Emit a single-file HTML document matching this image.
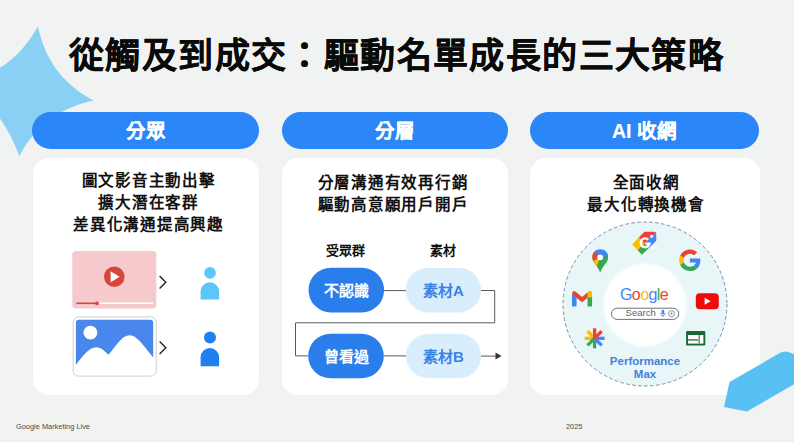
<!DOCTYPE html>
<html lang="zh-TW">
<head>
<meta charset="utf-8">
<style>
html,body{margin:0;padding:0;}
body{width:794px;height:442px;overflow:hidden;position:relative;background:#f1f3f3;font-family:"Liberation Sans",sans-serif;color:#111;}
.abs{position:absolute;}
.title{left:69px;top:31px;font-size:35px;font-weight:900;letter-spacing:1.4px;-webkit-text-stroke:0.3px #0a0a0a;line-height:50px;white-space:nowrap;color:#0a0a0a;}
.pill{position:absolute;top:112px;height:37px;border-radius:18.5px;background:#2b86f7;color:#fff;font-size:19.5px;font-weight:700;line-height:39px;-webkit-text-stroke:0.2px #fff;text-align:center;}
.card{position:absolute;top:158px;height:237px;border-radius:16px;background:#fff;}
.ctext{position:absolute;font-size:15.5px;font-weight:700;line-height:22.1px;letter-spacing:0.75px;text-align:center;color:#111;white-space:nowrap;}
.lbl{font-size:13px;font-weight:700;line-height:20px;text-align:center;color:#111;white-space:nowrap;}
.dpill{font-size:15px;font-weight:700;line-height:45px;text-align:center;white-space:nowrap;}
.pm{font-size:11.5px;font-weight:700;line-height:12.5px;text-align:center;color:#4580d8;}
.foot{position:absolute;font-size:7.4px;color:#4a4a4a;top:421px;line-height:12px;}
</style>
</head>
<body>
<!-- star -->
<svg class="abs" style="left:0;top:0" width="160" height="200" viewBox="0 0 160 200">
  <g transform="translate(28.55 91.1) rotate(8.2)">
    <path d="M0,-65.6 C12,-33 33,-12 65.6,0 C33,12 12,33 0,65.6 C-15,37 -37,15 -65.6,0 C-33,-12 -12,-33 0,-65.6 Z" fill="#8acff4"/>
  </g>
</svg>

<div class="abs title">從觸及到成交：驅動名單成長的三大策略</div>

<div class="pill" style="left:32px;width:227px;">分眾</div>
<div class="pill" style="left:282px;width:226px;">分層</div>
<div class="pill" style="left:530px;width:229px;">AI 收網</div>

<div class="card" style="left:33px;width:226px;"></div>
<div class="card" style="left:282px;width:226px;"></div>
<div class="card" style="left:530px;width:230px;"></div>

<div class="ctext" style="left:35.5px;width:226px;top:169.7px;">圖文影音主動出擊<br>擴大潛在客群<br>差異化溝通提高興趣</div>
<div class="ctext" style="left:280px;width:226px;top:171.7px;">分層溝通有效再行銷<br>驅動高意願用戶開戶</div>
<div class="ctext" style="left:531.5px;width:229px;top:172px;">全面收網<br>最大化轉換機會</div>


<!-- card1 graphics -->
<svg class="abs" style="left:0;top:0" width="794" height="442" viewBox="0 0 794 442">
  <!-- video -->
  <rect x="72.3" y="251" width="84" height="57.4" rx="3.5" fill="#f6cacd"/>
  <circle cx="114.3" cy="276.7" r="10.3" fill="#d6473b"/>
  <path d="M110.6,271.2 L119.6,276.7 L110.6,282.2 Z" fill="#fff"/>
  <line x1="97" y1="303.3" x2="153.2" y2="303.3" stroke="#fff" stroke-width="1.6"/>
  <line x1="76.3" y1="303.3" x2="97" y2="303.3" stroke="#d6473b" stroke-width="1.6"/>
  <circle cx="97" cy="303.3" r="1.9" fill="#d6473b"/>
  <path d="M159.6,276 L165.8,282.2 L159.6,288.4" fill="none" stroke="#222" stroke-width="1.4"/>
  <!-- image -->
  <rect x="73.2" y="316.9" width="83" height="59.2" rx="5.5" fill="#fff" stroke="#cfcfcf" stroke-width="1"/>
  <path d="M75.9,323 Q75.9,319.8 79,319.8 L150.2,319.8 Q153.2,319.8 153.2,323 L153.2,357.5 C146,349 137.5,335.3 129.7,335.3 C122,335.3 116,346 108.5,354.8 C104.5,351 101,347.3 96.2,347.3 C89,347.3 83,356 75.9,364.7 Z" fill="#4a87ec"/>
  <circle cx="90.4" cy="332.7" r="6.9" fill="#fff"/>
  <path d="M159.6,341.5 L165.8,347.7 L159.6,353.9" fill="none" stroke="#222" stroke-width="1.4"/>
  <!-- persons -->
  <circle cx="210" cy="272.9" r="5.9" fill="#5bc6f8"/>
  <path d="M200.6,299.4 L200.6,291.6 A9.25,9.25 0 0 1 219.1,291.6 L219.1,299.4 Z" fill="#5bc6f8"/>
  <circle cx="210" cy="337.6" r="6" fill="#2180f0"/>
  <path d="M200.6,366.2 L200.6,357.2 A9.25,9.25 0 0 1 219.1,357.2 L219.1,366.2 Z" fill="#2180f0"/>

  <!-- card2 lines -->
  <g fill="none" stroke="#5a5a5a" stroke-width="1">
    <path d="M384,290.6 L406,290.6"/>
    <path d="M481,290.5 L494.7,290.5 L494.7,322.8 L295.5,322.8 L295.5,355.9 L308,355.9"/>
    <path d="M384,355.9 L406,355.9"/>
    <path d="M481,356.1 L497,356.1"/>
  </g>
  <path d="M495.5,352.6 L501.6,356.1 L495.5,359.6 Z" fill="#333"/>
  <rect x="308.5" y="267.8" width="75.6" height="44.6" rx="22.3" fill="#2a7eeb"/>
  <rect x="405.8" y="267.8" width="75.2" height="44.6" rx="22.3" fill="#d9eefc"/>
  <rect x="308.2" y="333.7" width="75.6" height="44.5" rx="22.25" fill="#2a7eeb"/>
  <rect x="405.9" y="333.7" width="75.3" height="44.5" rx="22.25" fill="#d9eefc"/>

  <!-- card3 circle -->
  <circle cx="645" cy="304" r="82" fill="#e8f6f8" stroke="#7b8fae" stroke-width="1" stroke-dasharray="3.6 2.4"/>
  <filter id="soft" x="-20%" y="-20%" width="140%" height="140%"><feGaussianBlur stdDeviation="0.9"/></filter>
  <circle cx="645" cy="305" r="41.5" fill="#fff" filter="url(#soft)"/>
  <!-- icons card3 -->
  <g transform="translate(679.1 249.4) scale(0.452)">
    <path fill="#EA4335" d="M24 9.5c3.54 0 6.71 1.22 9.21 3.6l6.85-6.85C35.9 2.38 30.47 0 24 0 14.62 0 6.51 5.38 2.56 13.22l7.98 6.19C12.43 13.72 17.74 9.5 24 9.5z"/>
    <path fill="#4285F4" d="M46.98 24.55c0-1.57-.15-3.09-.38-4.55H24v9.02h12.94c-.58 2.96-2.26 5.48-4.78 7.18l7.73 6c4.51-4.18 7.09-10.36 7.09-17.65z"/>
    <path fill="#FBBC05" d="M10.53 28.59c-.48-1.450-.76-2.99-.76-4.59s.27-3.14.76-4.59l-7.980-6.19C.92 16.46 0 20.12 0 24c0 3.88.92 7.54 2.56 10.78l7.97-6.19z"/>
    <path fill="#34A853" d="M24 48c6.48 0 11.930-2.130 15.890-5.81l-7.730-6c-2.150 1.450-4.920 2.3-8.160 2.3-6.26 0-11.57-4.22-13.47-9.91l-7.98 6.19C6.51 42.62 14.62 48 24 48z"/>
  </g>
  <!-- maps pin -->
  <defs>
    <clipPath id="pinclip"><path d="M8,0 C3.5,0 0,3.5 0,8 C0,13 5.5,16.5 8,23.5 C10.5,16.5 16,13 16,8 C16,3.5 12.5,0 8,0 Z"/></clipPath>
    <clipPath id="tagclip"><path d="M632.1,244.4 L644.4,231.7 L654.5,231.7 Q656.2,231.7 656.2,233.4 L656.3,240.8 L642,254.7 Z"/></clipPath>
  </defs>
  <g transform="translate(592.2 249.3)" clip-path="url(#pinclip)">
    <rect x="0" y="0" width="16" height="24" fill="#34a853"/>
    <path d="M-1,-1 L17,-1 L17,7 L8,8 L3,3 Z" fill="#4285f4"/>
    <path d="M-1,2 L3,3 L8,8 L-1,13 Z" fill="#ea4335"/>
    <path d="M-1,13 L8,8 L4.5,17.5 L-1,14 Z" fill="#fbbc04"/>
    <circle cx="8" cy="8" r="2.9" fill="#fff"/>
  </g>
  <!-- tag -->
  <g clip-path="url(#tagclip)">
    <path d="M644.5,243.3 L620,219 L670,219 Z" fill="#ea4335"/>
    <path d="M644.5,243.3 L620,219 L620,268 Z" fill="#fbbc04"/>
    <path d="M644.5,243.3 L620,268 L670,268 Z" fill="#34a853"/>
    <path d="M644.5,243.3 L670,219 L670,268 Z" fill="#4285f4"/>
  </g>
  <circle cx="651.6" cy="236.3" r="1.5" fill="#fff"/>
  <path d="M648.2,239.6 A4.4,4.4 0 1 0 649.5,243.6 L645.4,243.6" stroke="#fff" stroke-width="2.4" fill="none"/>
  <!-- gmail -->
  <rect x="572" y="294" width="4.6" height="12.4" rx="1" fill="#4285f4"/>
  <rect x="587.5" y="296" width="4.6" height="10.4" rx="1" fill="#34a853"/>
  <path d="M574.3,293.4 L582.05,299.6 L589.8,293.4" fill="none" stroke="#ea4335" stroke-width="4.3" stroke-linecap="round" stroke-linejoin="miter"/>
  <path d="M587.5,297.6 L587.5,293.6 Q587.5,291.2 589.8,291.2 Q592.1,291.2 592.1,293.6 L592.1,297.2 Z" fill="#fbbc04"/>
  <!-- youtube -->
  <rect x="695.8" y="293.3" width="23" height="16" rx="4" fill="#f00a0a"/>
  <path d="M704.6,297.8 L710.8,301.3 L704.6,304.8 Z" fill="#fff"/>
  <!-- asterisk -->
  <g transform="translate(594.6 338.3)" stroke-width="3.3" stroke-linecap="butt">
    <line x1="0" y1="0" x2="-10" y2="0" stroke="#fbbc04"/>
    <line x1="0" y1="0" x2="-7.1" y2="-7.1" stroke="#fbbc04"/>
    <line x1="0" y1="0" x2="0" y2="10" stroke="#34a853"/>
    <line x1="0" y1="0" x2="-7.1" y2="7.1" stroke="#34a853"/>
    <line x1="0" y1="0" x2="10" y2="0" stroke="#4285f4"/>
    <line x1="0" y1="0" x2="7.1" y2="7.1" stroke="#4285f4"/>
    <line x1="0" y1="0" x2="0" y2="-10" stroke="#ea4335"/>
    <line x1="0" y1="0" x2="7.1" y2="-7.1" stroke="#ea4335"/>
  </g>
  <!-- sheets -->
  <rect x="686.1" y="330.9" width="19.2" height="14.6" rx="1.3" fill="#176a31"/>
  <rect x="688" y="335" width="15.4" height="8.6" fill="#fff"/>
  <rect x="688" y="339" width="10.6" height="1.8" fill="#5f9a6e"/>
  <rect x="698.5" y="335" width="1.5" height="8.6" fill="#5f9a6e"/>
  <!-- google search -->
  <text x="620" y="300" font-family="Liberation Sans, sans-serif" font-size="16" letter-spacing="-0.6"><tspan fill="#4285f4">G</tspan><tspan fill="#ea4335">o</tspan><tspan fill="#fbbc05">o</tspan><tspan fill="#4285f4">g</tspan><tspan fill="#34a853">l</tspan><tspan fill="#ea4335">e</tspan></text>
  <rect x="611.5" y="308.2" width="67.2" height="11.2" rx="5.6" fill="#fff" stroke="#6a6a6a" stroke-width="0.95"/>
  <text x="625.5" y="316.4" font-family="Liberation Sans, sans-serif" font-size="9.6" fill="#5f6368">Search</text>
  <rect x="661.6" y="309.7" width="2.6" height="4.6" rx="1.3" fill="#4285f4"/>
  <path d="M660.6,313 Q660.6,315.5 662.9,315.5 Q665.2,315.5 665.2,313" fill="none" stroke="#4285f4" stroke-width="0.8"/>
  <line x1="662.9" y1="315.5" x2="662.9" y2="317" stroke="#777" stroke-width="0.9"/>
  <circle cx="671.5" cy="313.6" r="3" fill="none" stroke="#8c8cb0" stroke-width="1"/>
  <circle cx="671.5" cy="313.6" r="1" fill="#4285f4"/>

</svg>

<div class="abs lbl" style="left:318px;width:54px;top:241px;">受眾群</div>
<div class="abs lbl" style="left:416px;width:54px;top:241px;">素材</div>
<div class="abs dpill" style="left:308px;top:268px;width:76px;height:45px;color:#fff;">不認識</div>
<div class="abs dpill" style="left:406px;top:268px;width:75px;height:45px;color:#3a82e4;">素材A</div>
<div class="abs dpill" style="left:308px;top:334px;width:76px;height:44px;color:#fff;">曾看過</div>
<div class="abs dpill" style="left:406px;top:334px;width:75px;height:44px;color:#3a82e4;">素材B</div>

<div class="abs pm" style="left:595px;width:100px;top:355px;">Performance<br>Max</div>

<div class="foot" style="left:16px;">Google Marketing Live</div>
<div class="foot" style="left:566px;">2025</div>

<!-- pencil shape bottom-right -->
<svg class="abs" style="left:700px;top:330px" width="94" height="112" viewBox="700 330 94 112">
  <path d="M729.5,382 L778.5,353.8 Q783.5,350.3 788.5,352 L800,356.5 L800,380.9 L747,411.5 L724,407 Z" fill="#58c0f2"/>
</svg>
</body>
</html>
